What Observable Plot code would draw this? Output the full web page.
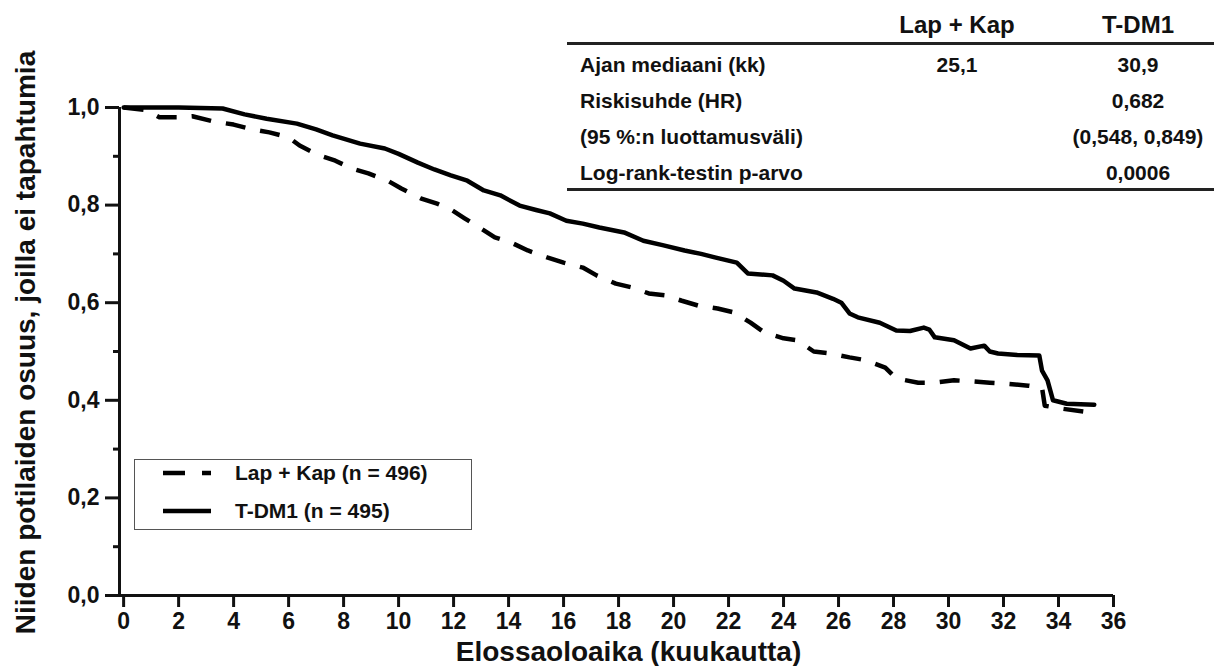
<!DOCTYPE html>
<html><head><meta charset="utf-8">
<script src="https://cdn.jsdelivr.net/npm/d3@7"></script>
<script src="https://cdn.jsdelivr.net/npm/@observablehq/plot@0.6"></script>
<style>
body{margin:0;background:#fff;}
#wrap{position:relative;width:1216px;height:666px;font-family:"Liberation Sans",Arial,sans-serif;font-weight:bold;color:#111;}
#wrap svg{position:absolute;left:0;top:0;}
.abs{position:absolute;white-space:nowrap;}
.hdr{font-size:24px;line-height:30px;text-align:center;width:240px;}
.row{font-size:21px;line-height:30px;}
.val{font-size:21px;line-height:30px;text-align:center;width:240px;}
.rule{position:absolute;left:567px;width:647px;height:3px;background:#222;}
#legend{position:absolute;left:134px;top:459px;width:338px;height:71px;box-sizing:border-box;border:1.5px solid #555;background:#fff;}
.leg{font-size:21px;line-height:26px;}
</style></head><body><div id="wrap"></div>
<script>
// ---- data ----
const tdm1Time = [0, 2.0, 3.6, 4.4, 5.2, 6.3, 7.0, 7.6, 8.6, 9.5, 10.0, 10.7, 11.3, 11.9, 12.5, 13.1, 13.7, 14.4, 15.0, 15.5, 16.1, 16.7, 17.3, 18.2, 18.9, 19.6, 20.4, 21.0, 21.5, 22.3, 22.7, 23.6, 24.0, 24.4, 25.2, 25.8, 26.1, 26.4, 26.7, 27.5, 28.1, 28.6, 29.1, 29.3, 29.5, 30.2, 30.8, 31.3, 31.5, 31.8, 32.5, 33.3, 33.4, 33.6, 33.8, 34.3, 35.3];
const tdm1Surv = [1.0, 1.0, 0.998, 0.986, 0.977, 0.967, 0.955, 0.943, 0.926, 0.916, 0.905, 0.887, 0.873, 0.861, 0.85, 0.83, 0.82, 0.799, 0.79, 0.783, 0.768, 0.762, 0.754, 0.744, 0.727, 0.718, 0.707, 0.70, 0.693, 0.682, 0.66, 0.656, 0.645, 0.629, 0.621, 0.608, 0.60, 0.578, 0.57, 0.559, 0.543, 0.542, 0.549, 0.545, 0.529, 0.523, 0.506, 0.512, 0.50, 0.496, 0.493, 0.492, 0.461, 0.441, 0.40, 0.393, 0.391];
const lapTime = [0, 0.8, 1.3, 2.0, 2.5, 3.3, 4.0, 4.7, 5.3, 6.0, 6.4, 7.1, 7.7, 8.3, 8.9, 9.6, 10.1, 10.8, 11.4, 11.9, 12.4, 13.0, 13.5, 14.1, 14.7, 15.4, 16.0, 16.7, 17.2, 17.9, 18.5, 19.1, 19.7, 20.3, 20.9, 21.6, 22.2, 22.8, 23.3, 24.0, 24.5, 25.1, 25.7, 26.4, 27.0, 27.7, 28.1, 28.9, 29.5, 30.2, 30.8, 31.5, 32.1, 32.9, 33.4, 33.5, 34.1, 34.9];
const lapSurv = [1.0, 0.995, 0.98, 0.98, 0.982, 0.971, 0.965, 0.955, 0.949, 0.939, 0.922, 0.902, 0.891, 0.875, 0.865, 0.85, 0.834, 0.814, 0.803, 0.791, 0.773, 0.752, 0.734, 0.723, 0.707, 0.693, 0.682, 0.672, 0.656, 0.639, 0.631, 0.619, 0.615, 0.604, 0.594, 0.588, 0.58, 0.559, 0.539, 0.527, 0.523, 0.50, 0.496, 0.488, 0.482, 0.467, 0.445, 0.436, 0.436, 0.441, 0.439, 0.436, 0.434, 0.43, 0.426, 0.389, 0.383, 0.377];
const xTicks = [0, 2, 4, 6, 8, 10, 12, 14, 16, 18, 20, 22, 24, 26, 28, 30, 32, 34, 36];
const yTicks = [0, 0.2, 0.4, 0.6, 0.8, 1.0];
const yMinorTicks = [0.1, 0.3, 0.5, 0.7, 0.9];
const seriesNames = ["Lap + Kap (n = 496)", "T-DM1 (n = 495)"];
const yLabel = "Niiden potilaiden osuus, joilla ei tapahtumia";
const xLabel = "Elossaoloaika (kuukautta)";
const tableHeaders = ["Lap + Kap", "T-DM1"];
const tableRows = ["Ajan mediaani (kk)", "Riskisuhde (HR)", "(95 %:n luottamusväli)", "Log-rank-testin p-arvo"];
const tableLapCol = ["25,1", "", "", ""];
const tableTdmCol = ["30,9", "0,682", "(0,548, 0,849)", "0,0006"];

const tdm1 = tdm1Time.map((t, i) => ({t, s: tdm1Surv[i]}));
const lap = lapTime.map((t, i) => ({t, s: lapSurv[i]}));
const X0 = -0.15;
const fmt = d => d.toFixed(1).replace(".", ",");
const DASH = "20,15";

const chart = Plot.plot({
  width: 1216, height: 666,
  marginLeft: 119, marginRight: 103, marginTop: 107, marginBottom: 71,
  x: {domain: [X0, 36]},
  y: {domain: [0, 1]},
  style: {fontFamily: "'Liberation Sans', Arial, sans-serif", fontWeight: "bold", color: "#111", background: "transparent"},
  marks: [
    Plot.axisY(yTicks, {tickSize: 14, tickPadding: 6, tickFormat: fmt, fontSize: 23, strokeWidth: 3, label: null}),
    Plot.axisY(yMinorTicks, {tickSize: 6, tickFormat: () => "", strokeWidth: 3, label: null}),
    Plot.axisX(xTicks, {tickSize: 12, tickPadding: 5, fontSize: 23, strokeWidth: 3, label: null}),
    Plot.ruleX([X0], {strokeWidth: 3}),
    Plot.ruleY([0], {strokeWidth: 3}),
    Plot.line(lap, {x: "t", y: "s", strokeWidth: 4.5, strokeDasharray: DASH, strokeLinecap: "butt", stroke: "#000"}),
    Plot.line(tdm1, {x: "t", y: "s", strokeWidth: 4.5, stroke: "#000"}),
    Plot.text([yLabel], {text: d => d, frameAnchor: "left", textAnchor: "middle", lineAnchor: "middle", rotate: -90, dx: -93, dy: -9, fontSize: 28, fontWeight: "bold"}),
    Plot.text([xLabel], {text: d => d, frameAnchor: "bottom", textAnchor: "middle", lineAnchor: "middle", dx: 12, dy: 57, fontSize: 28, fontWeight: "bold"})
  ]
});
const wrap = document.getElementById("wrap");
wrap.appendChild(chart);

// table
function add(html, cls, style) {
  const d = document.createElement("div");
  d.className = "abs " + cls;
  Object.assign(d.style, style);
  d.textContent = html;
  wrap.appendChild(d);
  return d;
}
const colLap = 957, colTdm = 1138;
add(tableHeaders[0], "hdr", {left: (colLap - 120) + "px", top: "10px"});
add(tableHeaders[1], "hdr", {left: (colTdm - 120) + "px", top: "10px"});
const r1 = document.createElement("div"); r1.className = "rule"; r1.style.top = "42px"; wrap.appendChild(r1);
const r2 = document.createElement("div"); r2.className = "rule"; r2.style.top = "188px"; wrap.appendChild(r2);
const rowCenters = [65, 101, 137, 173];
tableRows.forEach((r, i) => {
  const top = (rowCenters[i] - 15) + "px";
  add(r, "row", {left: "580px", top});
  if (tableLapCol[i]) add(tableLapCol[i], "val", {left: (colLap - 120) + "px", top});
  if (tableTdmCol[i]) add(tableTdmCol[i], "val", {left: (colTdm - 120) + "px", top});
});

// legend
const leg = document.createElement("div");
leg.id = "legend";
wrap.appendChild(leg);
const legRows = [{dash: true, y: 13}, {dash: false, y: 51}];
legRows.forEach((o, i) => {
  const svgNS = "http://www.w3.org/2000/svg";
  const s = document.createElementNS(svgNS, "svg");
  s.setAttribute("width", 50); s.setAttribute("height", 10);
  s.style.position = "absolute"; s.style.left = "28px"; s.style.top = (o.y - 5) + "px";
  const l = document.createElementNS(svgNS, "line");
  l.setAttribute("x1", 0); l.setAttribute("x2", 48); l.setAttribute("y1", 5); l.setAttribute("y2", 5);
  l.setAttribute("stroke", "#000"); l.setAttribute("stroke-width", 4.5);
  if (o.dash) l.setAttribute("stroke-dasharray", "22,17");
  s.appendChild(l);
  leg.appendChild(s);
  const t = document.createElement("div");
  t.className = "abs leg";
  t.style.left = "100px"; t.style.top = (o.y - 13) + "px";
  t.textContent = seriesNames[i];
  leg.appendChild(t);
});
</script>
</body></html>
